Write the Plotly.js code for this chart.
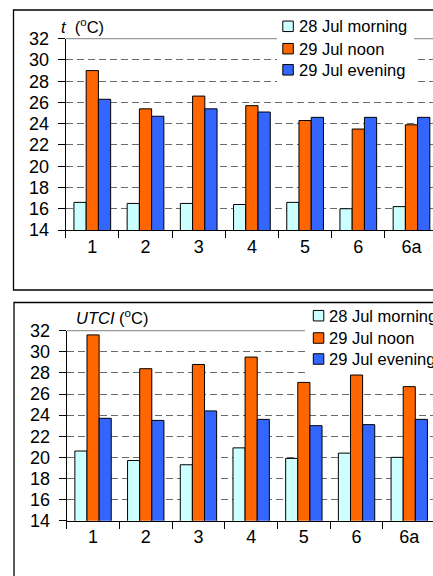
<!DOCTYPE html>
<html>
<head>
<meta charset="utf-8">
<script src="https://cdn.plot.ly/plotly-3.0.1.min.js"></script>
<style>
  html, body { margin: 0; padding: 0; background: #fff; overflow: hidden; }
  #chart { width: 450px; height: 576px; }
</style>
</head>
<body>
<div id="chart"></div>
<script>
// ---- Data ----
const categories = ['1', '2', '3', '4', '5', '6', '6a'];
const seriesNames = ['28 Jul morning', '29 Jul noon', '29 Jul evening'];
const seriesColors = ['#CCFFFF', '#FF6600', '#3366FF'];

// Air temperature t (°C)
const tMorning = [16.6, 16.5, 16.5, 16.4, 16.6, 16.0, 16.2];
const tNoon    = [29.0, 25.4, 26.6, 25.7, 24.3, 23.5, 23.9];
const tEvening = [26.3, 24.7, 25.4, 25.1, 24.6, 24.6, 24.6];

// UTCI (°C)
const uMorning = [20.6, 19.7, 19.3, 20.9, 19.9, 20.4, 20.0];
const uNoon    = [31.6, 28.4, 28.8, 29.5, 27.1, 27.8, 26.7];
const uEvening = [23.7, 23.5, 24.4, 23.6, 23.0, 23.1, 23.6];

const yTickVals = [14, 16, 18, 20, 22, 24, 26, 28, 30, 32];

// ---- Layout helpers ----
const W = 450, H = 576;
const px = x => x / W;
const py = y => 1 - y / H;
const FONT = 'Liberation Sans, Arial, sans-serif';

const topSeries = [tMorning, tNoon, tEvening];
const botSeries = [uMorning, uNoon, uEvening];

const traces = [];
topSeries.forEach((vals, i) => {
  traces.push({
    type: 'bar', x: categories, y: vals, name: seriesNames[i],
    xaxis: 'x', yaxis: 'y',
    marker: { color: seriesColors[i], line: { color: '#000', width: 1 } },
    showlegend: false, hoverinfo: 'x+y'
  });
});
botSeries.forEach((vals, i) => {
  traces.push({
    type: 'bar', x: categories, y: vals, name: seriesNames[i],
    xaxis: 'x2', yaxis: 'y2',
    marker: { color: seriesColors[i], line: { color: '#000', width: 1 } },
    showlegend: false, hoverinfo: 'x+y'
  });
});

function xAxis(domain, anchor, standoff) {
  return {
    domain: domain, anchor: anchor, type: 'category',
    range: [-0.5, categories.length - 0.5],
    showline: true, linecolor: '#000', linewidth: 1,
    ticks: 'outside', tickson: 'boundaries', ticklen: 7, tickcolor: '#000', tickwidth: 1,
    tickfont: { family: FONT, size: 18, color: '#000' },
    ticklabelstandoff: standoff,
    showgrid: false, zeroline: false, fixedrange: true
  };
}
function yAxis(domain, anchor) {
  return {
    domain: domain, anchor: anchor,
    range: [14, 32], tickvals: yTickVals,
    showline: true, linecolor: '#000', linewidth: 1,
    ticks: 'outside', ticklen: 7, tickcolor: '#000', tickwidth: 1,
    tickfont: { family: FONT, size: 18, color: '#000' },
    ticklabelstandoff: 5,
    showgrid: true, gridcolor: '#6a6a6a', gridwidth: 1, griddash: '7px,4px',
    zeroline: false, fixedrange: true
  };
}

const shapes = [];
const annotations = [];

// Panel frames
shapes.push({ type: 'rect', xref: 'paper', yref: 'paper',
  x0: px(13.5), x1: px(470), y0: py(290), y1: py(10),
  line: { color: '#000', width: 1.3 }, fillcolor: 'rgba(0,0,0,0)', layer: 'below' });
shapes.push({ type: 'rect', xref: 'paper', yref: 'paper',
  x0: px(14), x1: px(470), y0: py(600), y1: py(302.5),
  line: { color: '#000', width: 1.3 }, fillcolor: 'rgba(0,0,0,0)', layer: 'below' });

// Plot-area top border (grey)
['x', 'x2'].forEach((xa, k) => {
  const ya = k === 0 ? 'y' : 'y2';
  shapes.push({ type: 'line', xref: xa + ' domain', yref: ya + ' domain',
    x0: 0, x1: 1, y0: 1, y1: 1, line: { color: '#9a9a9a', width: 1.2 }, layer: 'above' });
});

// Custom legends
function addLegend(box, markerX, textX, rowsY) {
  shapes.push({ type: 'rect', xref: 'paper', yref: 'paper',
    x0: px(box[0]), x1: px(box[1]), y0: py(box[3]), y1: py(box[2]),
    line: { width: 0 }, fillcolor: '#fff', layer: 'above' });
  seriesNames.forEach((name, i) => {
    const cy = rowsY[i];
    shapes.push({ type: 'rect', xref: 'paper', yref: 'paper',
      x0: px(markerX), x1: px(markerX + 10.5), y0: py(cy + 5.25), y1: py(cy - 5.25),
      line: { color: '#000', width: 1 }, fillcolor: seriesColors[i], layer: 'above' });
    annotations.push({ xref: 'paper', yref: 'paper', x: px(textX), y: py(cy),
      xanchor: 'left', yanchor: 'middle', showarrow: false, text: name,
      font: { family: FONT, size: 16.5, color: '#000' } });
  });
}
addLegend([277, 414, 12, 86], 282.8, 296.5, [26.3, 48.7, 69.8]);
addLegend([305, 470, 304, 373.8], 313.3, 326.5, [315.7, 338, 359]);

// Axis titles
annotations.push({ xref: 'paper', yref: 'paper', x: px(59), y: py(25.5),
  xanchor: 'left', yanchor: 'middle', showarrow: false,
  text: '<i>t</i>  (<sup>o</sup>C)', font: { family: FONT, size: 16.5, color: '#000' } });
annotations.push({ xref: 'paper', yref: 'paper', x: px(74), y: py(316.5),
  xanchor: 'left', yanchor: 'middle', showarrow: false,
  text: '<i>UTCI</i> (<sup>o</sup>C)', font: { family: FONT, size: 16.5, color: '#000' } });

const layout = {
  width: W, height: H,
  margin: { l: 0, r: 0, t: 0, b: 0 },
  paper_bgcolor: '#fff', plot_bgcolor: '#fff',
  barmode: 'group', bargap: 0.31, bargroupgap: 0,
  showlegend: false,
  font: { family: FONT, color: '#000' },
  xaxis: xAxis([px(65.7), px(438.1)], 'y', 11.5),
  yaxis: yAxis([py(230), py(38.7)], 'x'),
  xaxis2: xAxis([px(66.7), px(435.6)], 'y2', 14.5),
  yaxis2: yAxis([py(520.7), py(330.7)], 'x2'),
  shapes: shapes,
  annotations: annotations
};

Plotly.newPlot('chart', traces, layout, { displayModeBar: false, staticPlot: true });
</script>
</body>
</html>
